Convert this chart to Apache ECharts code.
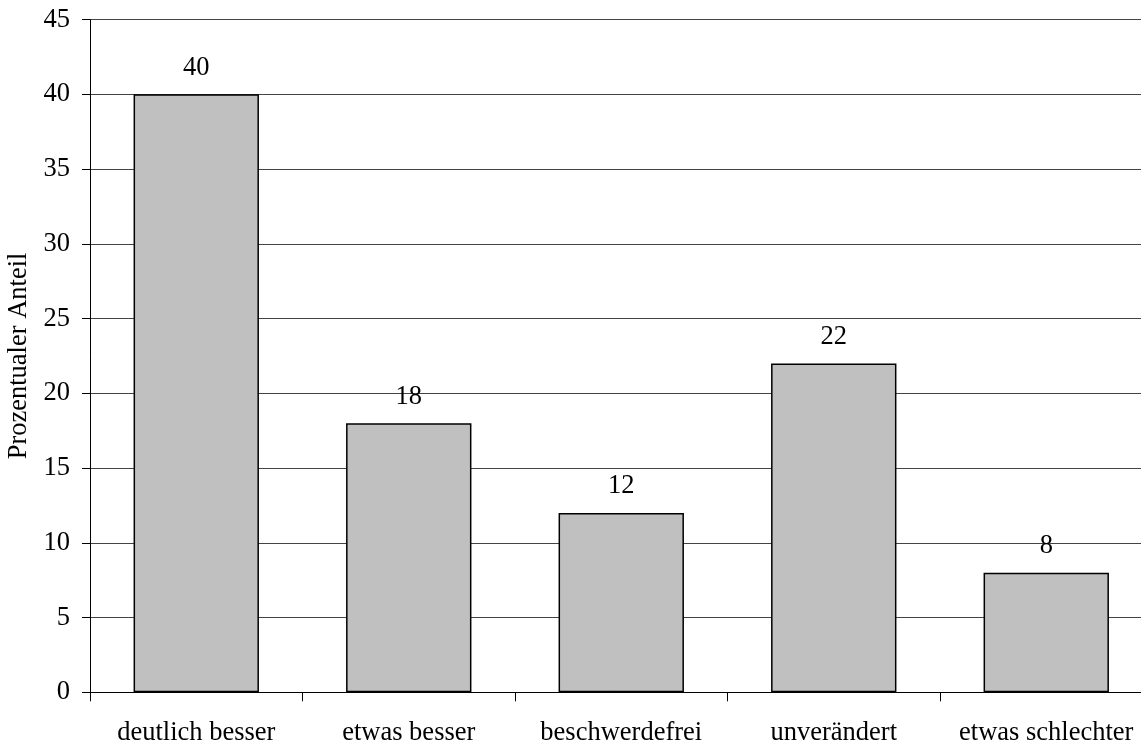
<!DOCTYPE html>
<html>
<head>
<meta charset="utf-8">
<script src="https://cdn.jsdelivr.net/npm/echarts@6/dist/echarts.min.js"></script>
<style>
  html, body { margin: 0; padding: 0; background: #fff; }
  #chart { width: 1141px; height: 743px; }
</style>
</head>
<body>
<div id="chart"></div>
<script>
// Outcome categories and their percentage shares
const categories = ['deutlich besser', 'etwas besser', 'beschwerdefrei', 'unverändert', 'etwas schlechter'];
const shares = [40, 18, 12, 22, 8];
const yTicks = [0, 5, 10, 15, 20, 25, 30, 35, 40, 45];

const font = '"Liberation Serif", "Times New Roman", serif';
const fs = 26.5;
const chart = echarts.init(document.getElementById('chart'), null, { renderer: 'canvas' });

chart.setOption({
  animation: false,
  backgroundColor: '#ffffff',
  grid: {
    left: 90, right: -11.5, top: 19.6, bottom: 50.7,
    containLabel: false,
    outerBoundsMode: 'none'
  },
  xAxis: {
    type: 'category',
    data: categories,
    axisLine: { show: true, lineStyle: { color: '#000', width: 1 } },
    axisTick: { show: true, interval: 0, alignWithLabel: false, length: 9, lineStyle: { color: '#000' } },
    axisLabel: { interval: 0, hideOverlap: false, color: '#000', fontFamily: font, fontSize: fs, margin: 27 },
    splitLine: { show: false }
  },
  yAxis: {
    type: 'value',
    min: yTicks[0],
    max: yTicks[yTicks.length - 1],
    interval: 5,
    name: 'Prozentualer Anteil',
    nameLocation: 'middle',
    nameGap: 53,
    nameRotate: 90,
    nameTextStyle: { color: '#000', fontFamily: font, fontSize: fs },
    axisLine: { show: true, lineStyle: { color: '#000', width: 1 } },
    axisTick: { show: true, length: 8, lineStyle: { color: '#000' } },
    axisLabel: { color: '#000', fontFamily: font, fontSize: fs, margin: 20 },
    splitLine: { show: true, lineStyle: { color: '#444', width: 1 } }
  },
  series: [{
    type: 'bar',
    data: shares,
    barWidth: '59%',
    itemStyle: { color: '#c0c0c0', borderColor: '#000', borderWidth: 1.5 },
    label: {
      show: true,
      position: 'top',
      distance: 13,
      color: '#000',
      fontFamily: font,
      fontSize: fs
    }
  }]
});
</script>
</body>
</html>
